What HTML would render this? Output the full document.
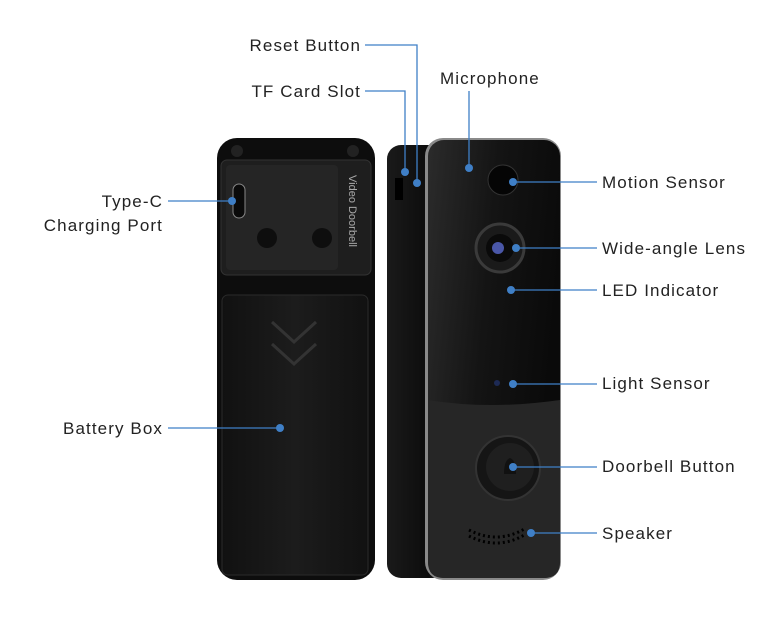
<!DOCTYPE html>
<html><head><meta charset="utf-8"><style>
html,body{margin:0;padding:0;background:#fff;}
svg{display:block;}
text{font-family:"Liberation Sans",sans-serif;font-size:17px;letter-spacing:1.1px;fill:#222;}
</style></head><body>
<svg width="781" height="617" viewBox="0 0 781 617" xmlns="http://www.w3.org/2000/svg">
<defs>
<linearGradient id="side" x1="0" x2="1" y1="0" y2="0">
<stop offset="0" stop-color="#1a1a1a"/><stop offset="0.7" stop-color="#0c0c0c"/><stop offset="1" stop-color="#555"/>
</linearGradient>
<linearGradient id="face" x1="0" x2="1" y1="0" y2="0.3">
<stop offset="0" stop-color="#2b2b2b"/><stop offset="0.5" stop-color="#141414"/><stop offset="1" stop-color="#0a0a0a"/>
</linearGradient>
<linearGradient id="back" x1="0" x2="1" y1="0" y2="0">
<stop offset="0" stop-color="#111"/><stop offset="0.5" stop-color="#1c1c1c"/><stop offset="1" stop-color="#111"/>
</linearGradient>
</defs>
<rect x="217" y="138" width="158" height="442" rx="20" fill="#0d0d0d"/>
<rect x="221" y="160" width="150" height="115" rx="6" fill="#1e1e1e" stroke="#333"/>
<rect x="226" y="165" width="112" height="105" rx="4" fill="#252525"/>
<circle cx="237" cy="151" r="6" fill="#222"/><circle cx="353" cy="151" r="6" fill="#222"/>
<rect x="233" y="184" width="12" height="34" rx="6" fill="#0a0a0a" stroke="#888" stroke-width="1"/>
<circle cx="267" cy="238" r="10" fill="#0e0e0e"/><circle cx="322" cy="238" r="10" fill="#0e0e0e"/>
<text x="349" y="175" transform="rotate(90 349 175)" style="font-size:11px;letter-spacing:0;fill:#aaa">Video  Doorbell</text>
<rect x="222" y="295" width="146" height="280" rx="6" fill="url(#back)" stroke="#2a2a2a"/>
<polyline points="272,322 294,342 316,322" fill="none" stroke="#333" stroke-width="3"/>
<polyline points="272,344 294,364 316,344" fill="none" stroke="#333" stroke-width="3"/>
<rect x="387" y="145" width="60" height="433" rx="14" fill="url(#side)"/>
<rect x="395" y="178" width="8" height="22" fill="#000"/>
<rect x="425" y="138" width="136" height="442" rx="18" fill="#8a8a8a"/>
<rect x="428" y="140" width="132" height="438" rx="16" fill="url(#face)"/>
<path d="M428,400 Q490,410 560,400 L560,562 Q560,578 544,578 L444,578 Q428,578 428,562 Z" fill="#262626"/>
<circle cx="503" cy="180" r="15" fill="#050505" stroke="#333"/>
<circle cx="500" cy="248" r="24" fill="#1a1a1a" stroke="#3a3a3a" stroke-width="3"/>
<circle cx="500" cy="248" r="14" fill="#0a0a0a"/><circle cx="498" cy="248" r="6" fill="#4a57a8"/>
<circle cx="497" cy="383" r="3" fill="#1d2a55"/>
<circle cx="508" cy="468" r="32" fill="#151515" stroke="#333" stroke-width="2"/>
<circle cx="510" cy="467" r="24" fill="#1f1f1f"/>
<path d="M504,474 Q504,460 510,458 Q516,460 516,474 Z" fill="#111"/>
<path d="M469,530 Q498,545 526,528" fill="none" stroke="#000" stroke-width="3" stroke-dasharray="2,3"/>
<path d="M469,536 Q498,551 526,534" fill="none" stroke="#000" stroke-width="3" stroke-dasharray="2,3"/>
<g stroke="#3f7fc6" stroke-width="1.3" fill="none">
<polyline points="365,45 417,45 417,183"/>
<polyline points="365,91 405,91 405,172"/>
<line x1="469" y1="91" x2="469" y2="168"/>
<line x1="513" y1="182" x2="597" y2="182"/>
<line x1="516" y1="248" x2="597" y2="248"/>
<line x1="511" y1="290" x2="597" y2="290"/>
<line x1="513" y1="384" x2="597" y2="384"/>
<line x1="513" y1="467" x2="597" y2="467"/>
<line x1="531" y1="533" x2="597" y2="533"/>
<line x1="168" y1="201" x2="232" y2="201"/>
<line x1="168" y1="428" x2="280" y2="428"/>
</g>
<g fill="#3f7fc6">
<circle cx="417" cy="183" r="4"/><circle cx="405" cy="172" r="4"/><circle cx="469" cy="168" r="4"/>
<circle cx="513" cy="182" r="4"/><circle cx="516" cy="248" r="4"/><circle cx="511" cy="290" r="4"/>
<circle cx="513" cy="384" r="4"/><circle cx="513" cy="467" r="4"/><circle cx="531" cy="533" r="4"/>
<circle cx="232" cy="201" r="4"/><circle cx="280" cy="428" r="4"/>
</g>
<text x="361" y="51" text-anchor="end">Reset Button</text>
<text x="361" y="97" text-anchor="end">TF Card Slot</text>
<text x="440" y="84">Microphone</text>
<text x="602" y="188">Motion Sensor</text>
<text x="602" y="254">Wide-angle Lens</text>
<text x="602" y="296">LED Indicator</text>
<text x="602" y="389">Light Sensor</text>
<text x="602" y="472">Doorbell Button</text>
<text x="602" y="539">Speaker</text>
<text x="163" y="207" text-anchor="end">Type-C</text>
<text x="163" y="231" text-anchor="end">Charging Port</text>
<text x="163" y="434" text-anchor="end">Battery Box</text>
</svg>
</body></html>
